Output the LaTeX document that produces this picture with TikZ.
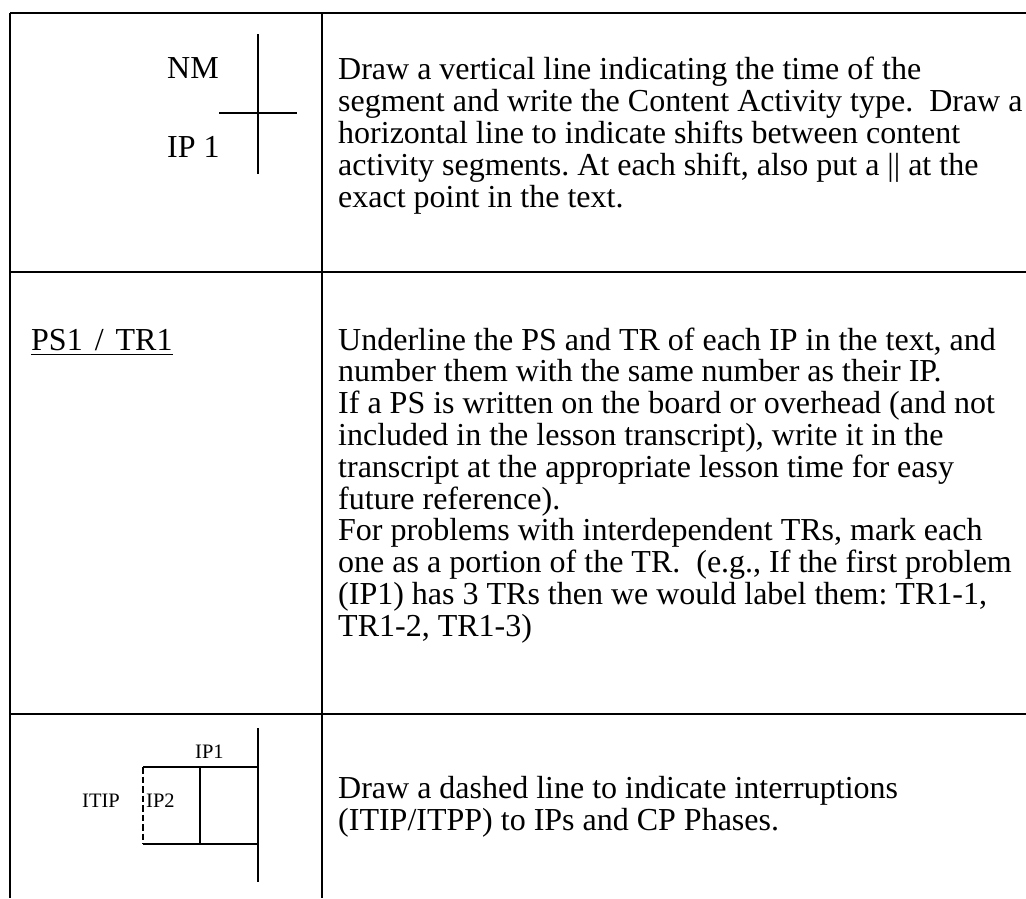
\documentclass[tikz,border=0pt]{standalone}
\usepackage{fontspec}
\setmainfont{Liberation Serif}
\usetikzlibrary{calc}

% A block of ruled description text: first baseline at the node's base anchor
\newcommand\descblock[2]{\parbox[t]{690pt}{\frenchspacing\fontsize{32}{#1}\selectfont #2}}

\begin{document}
\begin{tikzpicture}[x=1pt,y=-1pt,
  rule/.style={line width=2.2pt},
  symline/.style={line width=1.6pt},
  symdash/.style={line width=1.6pt, dash pattern=on 6.5pt off 3pt},
  bigtext/.style={inner sep=0pt, anchor=base west, font=\fontsize{32}{36}\selectfont},
  smalltext/.style={inner sep=0pt, anchor=base west, font=\fontsize{20.5}{24}\selectfont},
  desc/.style={inner sep=0pt, anchor=base west}]

\useasboundingbox (0,0) rectangle (1026,898);

% ---- table rules (open at the right and at the bottom)
\coordinate (tl) at (10,13);
\coordinate (tr) at (1026,13);
\coordinate (bl) at (10,898);
\coordinate (ct) at (322,13);
\coordinate (cb) at (322,898);
\coordinate (r1l) at (10,272);
\coordinate (r1r) at (1026,272);
\coordinate (r2l) at (10,714);
\coordinate (r2r) at (1026,714);
\draw[rule] (tl) -- (tr);
\draw[rule] (tl) -- (bl);
\draw[rule] (ct) -- (cb);
\draw[rule] (r1l) -- (r1r);
\draw[rule] (r2l) -- (r2r);

% ---- row 1: segment symbol
\coordinate (v1t) at (258,34);
\coordinate (v1b) at (258,174);
\coordinate (h1l) at (219,113);
\coordinate (h1r) at (297,113);
\draw[symline] (v1t) -- (v1b);
\draw[symline] (h1l) -- (h1r);
\node[bigtext] (nm) at (167,78) {NM};
\node[bigtext] (ip1) at (167,157) {IP 1};

\node[desc] (d1) at (338,79) {\descblock{32.2pt}{%
Draw a vertical line indicating the time of the\\
segment and write the Content Activity type.\ \ Draw a\\
horizontal line to indicate shifts between content\\
activity segments. At each shift, also put a || at the\\
exact point in the text.}};

% ---- row 2: underlined label
\node[bigtext] (pstr) at (31,350) {PS1\hspace{12pt}/\hspace{12pt}TR1};
\draw[line width=1.4pt] ($(pstr.base west)+(0,4.5)$) -- ($(pstr.base east)+(0,4.5)$);

\node[desc] (d2) at (338,350) {\descblock{31.8pt}{%
Underline the PS and TR of each IP in the text, and\\
number them with the same number as their IP.\\
If a PS is written on the board or overhead (and not\\
included in the lesson transcript), write it in the\\
transcript at the appropriate lesson time for easy\\
future reference).\\
For problems with interdependent TRs, mark each\\
one as a portion of the TR.\ \ (e.g., If the first problem\\
(IP1) has 3 TRs then we would label them: TR1-1,\\
TR1-2, TR1-3)}};

% ---- row 3: interruption symbol
\coordinate (v3t) at (258,728);
\coordinate (v3b) at (258,882);
\coordinate (bxtl) at (143,767);
\coordinate (bxtr) at (258,767);
\coordinate (bxbl) at (143,844);
\coordinate (bxbr) at (258,844);
\coordinate (mdt) at (200,767);
\coordinate (mdb) at (200,844);
\draw[symline] (v3t) -- (v3b);
\draw[symline] (bxtl) -- (bxtr);
\draw[symline] (bxbl) -- (bxbr);
\draw[symline] (mdt) -- (mdb);
\draw[symdash] (bxtl) -- (bxbl);
\node[smalltext] (lip1) at (195,758) {IP1};
\node[smalltext] (litip) at (82,807) {ITIP};
\node[smalltext] (lip2) at (146,807) {IP2};

\node[desc] (d3) at (338,798) {\descblock{32pt}{%
Draw a dashed line to indicate interruptions\\
(ITIP/ITPP) to IPs and CP Phases.}};

\end{tikzpicture}
\end{document}
